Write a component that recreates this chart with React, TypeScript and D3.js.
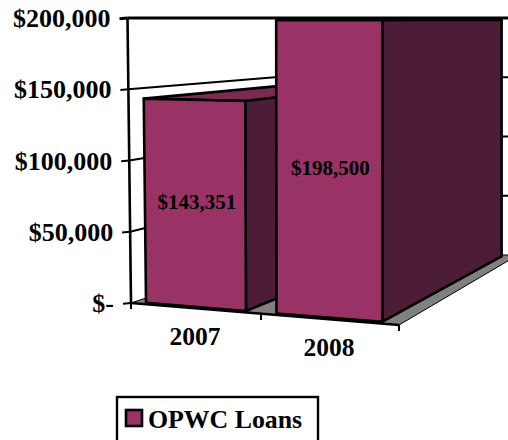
import React from "react";
import * as d3 from "d3";

const categories = ["2007", "2008"];
const loans = [143351, 198500];
const seriesName = "OPWC Loans";
const axisValues = [0, 50000, 100000, 150000, 200000];
const axisLabels = ["$-", "$50,000", "$100,000", "$150,000", "$200,000"];
const barLabels = ["$143,351", "$198,500"];

const W = 508;
const H = 440;
const SERIF = "'Liberation Serif', 'Times New Roman', serif";
const FRONT = "#993366";
const SIDE = "#4d1c36";
const TOP = "#7b2b52";
const FLOOR = "#808080";

// Oblique box projection: u runs along the categories, w runs from front to back wall.
const TOP_Y = 18;
const frontX = d3.scaleLinear().domain([0, 1, 2]).range([131, 261, 399]);
const frontFloorY = d3.scaleLinear().domain([0, 2]).range([303, 325]);
const backX = d3.scaleLinear().domain([0, 2]).range([275, 518]);
const BACK_FLOOR_Y = 255;
const level = d3.scaleLinear().domain([0, 200000]).range([0, 1]);
const BAR_HALF = 0.385;
const BAR_W0 = 0.025;
const BAR_W1 = 0.98;
// Bars sit slightly inside the floor; this keeps their front faces over the tick spacing.
const BAR_FRONT_SHIFT = -0.027;

function project(u: number, w: number, v: number): [number, number] {
  const x = frontX(u) * (1 - w) + backX(u) * w;
  const floor = frontFloorY(u) * (1 - w) + BACK_FLOOR_Y * w;
  const t = level(v);
  const lean = -3.5 * t * Math.max(0, 1 - u / 1.2) * (1 - w);
  return [x + lean, floor + (TOP_Y - floor) * t];
}

const poly = (pts: [number, number][]) => (d3.line()(pts) ?? "") + "Z";
const seg = (a: [number, number], b: [number, number]) => d3.line()([a, b]) ?? "";

export default function App() {
  const sw = 2.6;
  const axisTop = project(0, 0, 200000);
  const axisBottom = project(0, 0, 0);
  return (
    <svg
      width={W}
      height={H}
      viewBox={`0 0 ${W} ${H}`}
      style={{ position: "absolute", left: 0, top: 0, background: "#fff" }}
      fontFamily={SERIF}
      fontWeight="bold"
    >
      {/* floor */}
      <path
        d={poly([project(0, 0, 0), project(2, 0, 0), project(2, 1, 0), project(0, 1, 0)])}
        fill={FLOOR}
        stroke="#000"
        strokeWidth={1}
      />
      {/* wall gridlines and value ticks */}
      {axisValues.map((v, i) => {
        const a = project(0, 0, v);
        const b = project(0, 1, v);
        const c = project(2, 1, v);
        return (
          <g key={v} fill="none" stroke="#000" strokeWidth={v === 200000 ? 3 : 2}>
            {v !== 0 && <path d={seg(a, b)} />}
            {v !== 0 && <path d={seg(b, c)} />}
            <path d={seg([a[0] - 8, a[1] + 0.8], a)} />
            <text
              x={a[0] - 17}
              y={a[1] + 9}
              textAnchor="end"
              fontSize={26}
              fill="#000"
              stroke="none"
            >
              {axisLabels[i]}
            </text>
          </g>
        );
      })}
      <path d={seg(axisTop, axisBottom)} stroke="#000" strokeWidth={2.6} fill="none" />
      {/* front floor edge with category ticks */}
      <path d={seg(project(0, 0, 0), project(2, 0, 0))} stroke="#000" strokeWidth={2.6} fill="none" />
      {[0, 1, 2].map((u) => {
        const p = project(u, 0, 0);
        return <path key={u} d={seg(p, [p[0], p[1] + 6])} stroke="#000" strokeWidth={2} />;
      })}
      {/* bars, back to front along the category axis */}
      {loans.map((v, i) => {
        const u0 = i + 0.5 - BAR_HALF;
        const u1 = i + 0.5 + BAR_HALF;
        const fbl = project(u0 + BAR_FRONT_SHIFT, BAR_W0, 0);
        const fbr = project(u1 + BAR_FRONT_SHIFT, BAR_W0, 0);
        const ftl = project(u0 + BAR_FRONT_SHIFT, BAR_W0, v);
        const ftr = project(u1 + BAR_FRONT_SHIFT, BAR_W0, v);
        const bbr = project(u1, BAR_W1, 0);
        const btr = project(u1, BAR_W1, v);
        const btl = project(u0, BAR_W1, v);
        return (
          <g key={categories[i]} stroke="#000" strokeWidth={sw} strokeLinejoin="round">
            <path d={poly([ftl, ftr, btr, btl])} fill={TOP} />
            <path d={poly([fbr, ftr, btr, bbr])} fill={SIDE} />
            <path d={poly([fbl, fbr, ftr, ftl])} fill={FRONT} />
          </g>
        );
      })}
      {/* value labels centred on the front faces */}
      {loans.map((v, i) => {
        const b = project(i + 0.5 + BAR_FRONT_SHIFT, BAR_W0, 0);
        const t = project(i + 0.5 + BAR_FRONT_SHIFT, BAR_W0, v);
        return (
          <text
            key={barLabels[i]}
            x={b[0] + 1}
            y={(b[1] + t[1]) / 2 + 6}
            textAnchor="middle"
            fontSize={21}
            fill="#000"
          >
            {barLabels[i]}
          </text>
        );
      })}
      {/* category labels */}
      {categories.map((c, i) => {
        const p = project(i + 0.5, 0, 0);
        return (
          <text key={c} x={p[0] - 1} y={p[1] + 36} textAnchor="middle" fontSize={25.5} fill="#000">
            {c}
          </text>
        );
      })}
      {/* legend */}
      <rect x={117} y={397} width={201} height={50} fill="#fff" stroke="#000" strokeWidth={2.4} />
      <rect x={126} y={410} width={16} height={16} fill={FRONT} stroke="#000" strokeWidth={2.6} />
      <text x={148} y={428} fontSize={25.8} fill="#000">
        {seriesName}
      </text>
    </svg>
  );
}
